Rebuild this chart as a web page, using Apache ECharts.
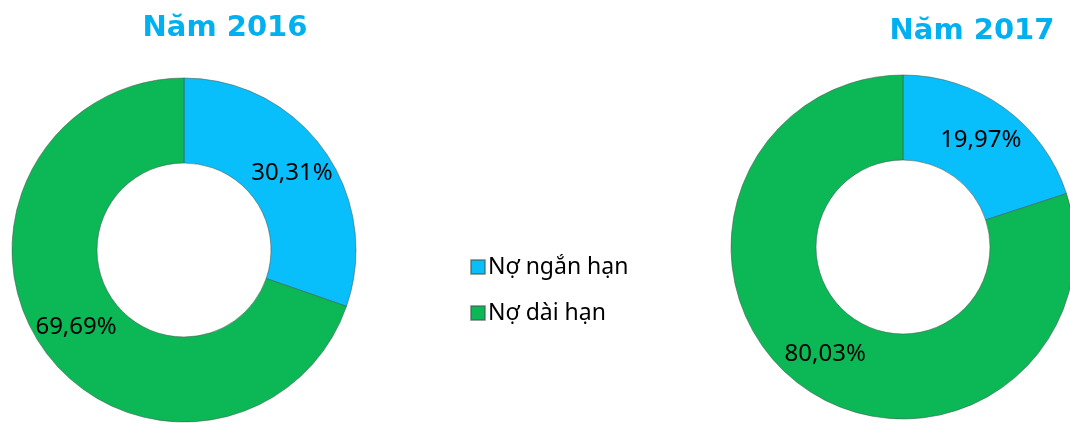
<!DOCTYPE html>
<html>
<head>
<meta charset="utf-8">
<script src="https://cdn.jsdelivr.net/npm/echarts@6/dist/echarts.min.js"></script>
<style>
html,body{margin:0;padding:0;background:#fff;}
#c{width:1070px;height:427px;}
</style>
</head>
<body>
<div id="c"></div>
<script>
const titles = ['Năm 2016', 'Năm 2017'];
const categories = ['Nợ ngắn hạn', 'Nợ dài hạn'];
const values2016 = [30.31, 69.69];
const values2017 = [19.97, 80.03];

const colors = ['#08BEFB', '#0BB855'];
const chart = echarts.init(document.getElementById('c'), null, {renderer: 'canvas'});

function fmt(v) { return v.toFixed(2).replace('.', ',') + '%'; }

function pie(values, center) {
  return {
    type: 'pie',
    center: center,
    radius: [87, 172],
    startAngle: 90,
    clockwise: true,
    avoidLabelOverlap: false,
    silent: true,
    data: categories.map((n, i) => ({name: n, value: values[i], itemStyle: {color: colors[i]}})),
    itemStyle: {borderColor: 'rgba(70,90,80,0.55)', borderWidth: 1},
    label: {
      show: true,
      position: 'inside',
      formatter: p => fmt(p.value),
      color: '#000',
      fontFamily: 'Noto Sans',
      fontSize: 24
    },
    labelLine: {show: false}
  };
}

chart.setOption({
  animation: false,
  title: [
    {text: titles[0], left: 220, top: 9, textAlign: 'center',
     textStyle: {fontFamily: 'DejaVu Sans', fontWeight: 'bold', fontSize: 29, color: '#00B0F0'}},
    {text: titles[1], left: 967, top: 12, textAlign: 'center',
     textStyle: {fontFamily: 'DejaVu Sans', fontWeight: 'bold', fontSize: 29, color: '#00B0F0'}}
  ],
  legend: {
    orient: 'vertical',
    left: 465,
    top: 249,
    icon: 'rect',
    itemWidth: 14,
    itemHeight: 14,
    itemGap: 20,
    selectedMode: false,
    data: categories,
    textStyle: {fontFamily: 'Noto Sans', fontSize: 23, color: '#000', padding: [0, 0, 0, -2], lineHeight: 26}
  },
  series: [pie(values2016, [184, 250]), pie(values2017, [903, 247])]
});
</script>
</body>
</html>
